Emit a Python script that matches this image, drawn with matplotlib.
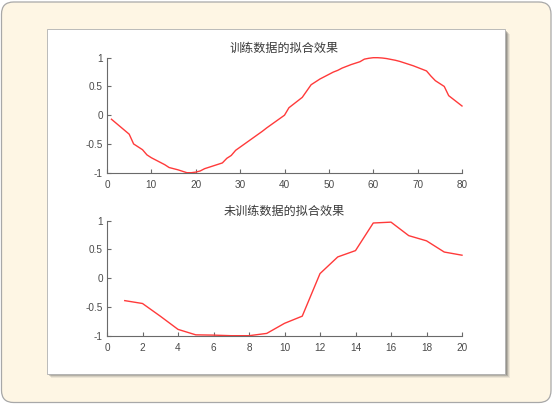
import matplotlib
matplotlib.use("Agg")
import matplotlib.pyplot as plt
from matplotlib.patches import FancyBboxPatch, Rectangle

plt.rcParams['font.family'] = ['Liberation Sans', 'Noto Sans CJK SC', 'DejaVu Sans']
plt.rcParams['axes.unicode_minus'] = False

# ---- data ----
train_x = list(range(1, 81))
train_y = [-0.07, -0.135, -0.20, -0.265, -0.33, -0.50, -0.55, -0.60, -0.69, -0.74,
           -0.78, -0.82, -0.86, -0.91, -0.93, -0.95, -0.975, -1.0, -1.0, -0.99,
           -0.97, -0.93, -0.905, -0.88, -0.855, -0.83, -0.75, -0.70, -0.61, -0.555,
           -0.50, -0.445, -0.39, -0.335, -0.28, -0.22, -0.165, -0.11, -0.055, 0.0,
           0.13, 0.19, 0.25, 0.31, 0.42, 0.53, 0.58, 0.63, 0.67, 0.71,
           0.75, 0.78, 0.82, 0.85, 0.88, 0.905, 0.93, 0.975, 0.99, 1.0,
           1.0, 0.995, 0.985, 0.97, 0.955, 0.935, 0.91, 0.885, 0.86, 0.83,
           0.80, 0.77, 0.68, 0.60, 0.55, 0.50, 0.34, 0.28, 0.22, 0.16]

test_x = list(range(1, 21))
test_y = [-0.39, -0.44, -0.66, -0.89, -0.985, -0.99, -1.0, -1.0, -0.96, -0.785,
          -0.66, 0.08, 0.37, 0.48, 0.96, 0.975, 0.74, 0.65, 0.455, 0.40]

title_train = "训练数据的拟合效果"
title_test = "未训练数据的拟合效果"
xticks_train = [0, 10, 20, 30, 40, 50, 60, 70, 80]
xticks_test = [0, 2, 4, 6, 8, 10, 12, 14, 16, 18, 20]
yticks = [-1, -0.5, 0, 0.5, 1]
ytick_labels = ["-1", "-0.5", "0", "0.5", "1"]

W, H = 553, 405
fig = plt.figure(figsize=(W / 100, H / 100), dpi=100)
fig.patch.set_facecolor('white')

def fx(px):
    return px / W

def fy(py):
    return 1 - py / H

# outer rounded beige frame
bg = FancyBboxPatch((fx(1.5), fy(402.5)), fx(549.5), (400.5) / H,
                    boxstyle="round,pad=0,rounding_size=0.022",
                    transform=fig.transFigure, facecolor='#fef6e4',
                    edgecolor='#a8a8a8', linewidth=0.9, mutation_aspect=W / H,
                    zorder=-10)
fig.patches.append(bg)

# shadow of the panel
for off, a in [(4.5, 0.10), (3.5, 0.15), (2.5, 0.25), (1.5, 0.3)]:
    sh = Rectangle((fx(46.5 + off), fy(373.5 + off)), fx(458.5), 344.5 / H,
                   transform=fig.transFigure, facecolor='#555555', alpha=a,
                   edgecolor='none', zorder=-9)
    fig.patches.append(sh)

panel = Rectangle((fx(46.5), fy(373.5)), fx(458.5), 344.5 / H,
                  transform=fig.transFigure, facecolor='white',
                  edgecolor='#b0b0b0', linewidth=0.6, zorder=-8)
fig.patches.append(panel)

grey = '#4a4a4a'
line_color = '#ff3a3a'

def style(ax, xticks, xlim, title):
    ax.set_facecolor('none')
    ax.set_zorder(5)
    for s in ['top', 'right']:
        ax.spines[s].set_visible(False)
    for s in ['left', 'bottom']:
        ax.spines[s].set_color('#6a6a6a')
        ax.spines[s].set_linewidth(0.8)
    ax.set_xlim(*xlim)
    ax.set_ylim(-1, 1)
    ax.set_xticks(xticks)
    ax.set_xticklabels([str(t) for t in xticks])
    ax.set_yticks(yticks)
    ax.set_yticklabels(ytick_labels)
    ax.tick_params(direction='in', length=3, width=0.8, color='#6a6a6a',
                   labelsize=7.2, labelcolor=grey)
    ax.tick_params(axis='x', pad=5)
    ax.tick_params(axis='y', pad=3)
    ax.set_title(title, fontsize=8.7, color='#3a3a3a', pad=4,
                 family=['Noto Sans CJK SC', 'DejaVu Sans'])

ax1 = fig.add_axes([fx(107), fy(172.7), fx(355), 115 / H])
ax1.plot(train_x, train_y, color=line_color, linewidth=1.0, clip_on=False)
style(ax1, xticks_train, (0, 80), title_train)

ax2 = fig.add_axes([fx(107), fy(335.7), fx(355), 115 / H])
ax2.plot(test_x, test_y, color=line_color, linewidth=1.0, clip_on=False)
style(ax2, xticks_test, (0, 20), title_test)

fig.savefig('out.png', dpi=100)
